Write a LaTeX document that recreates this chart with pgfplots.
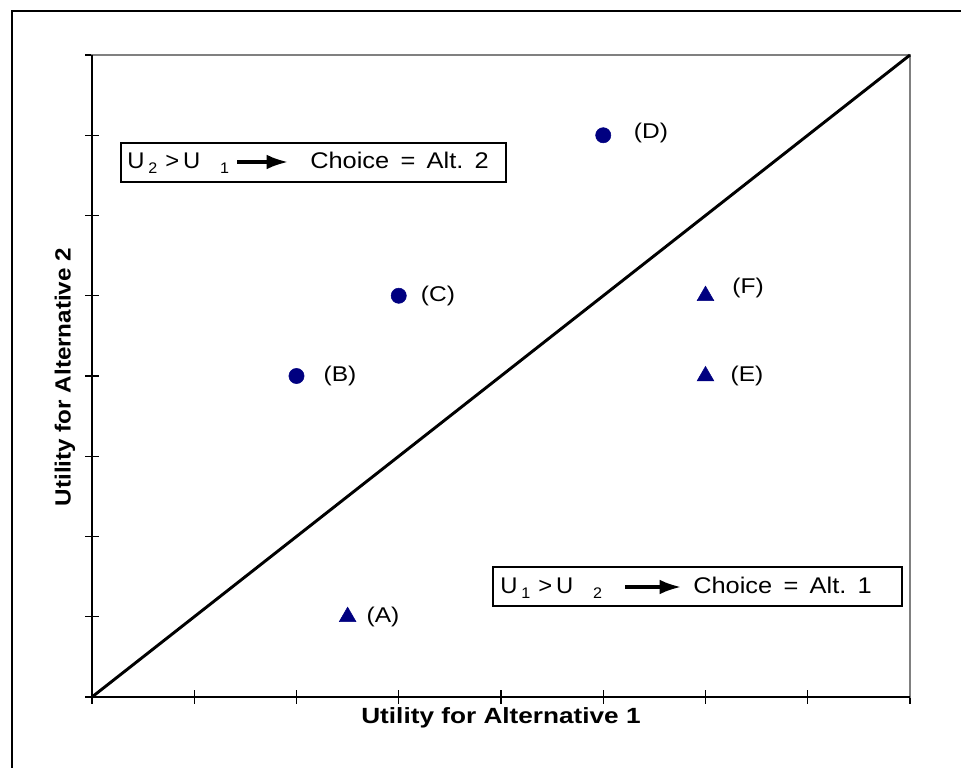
\documentclass[border=0pt]{standalone}
\usepackage{pgfplots}
\pgfplotsset{compat=1.18}
\usepackage{fontspec}
\setmainfont{Liberation Sans}
\usetikzlibrary{arrows.meta}
\definecolor{navyc}{RGB}{0,0,128}
\definecolor{frameg}{RGB}{128,128,128}
\begin{document}
\begin{tikzpicture}
\begin{axis}[
  at={(69pt,53.25pt)}, anchor=south west,
  scale only axis, width=613.5pt, height=481.5pt,
  xmin=0, xmax=8, ymin=0, ymax=8,
  xtick={0,...,8}, ytick={0,...,8},
  xticklabels={}, yticklabels={},
  xtick pos=bottom, ytick pos=left,
  tick align=center, major tick length=10pt,
  every tick/.style={black, line width=0.8pt},
  axis line style={draw=frameg, line width=2pt},
  clip=false,
]
\addplot[black, line width=2.2pt, no marks] coordinates {(0,0) (8,8)};
\addplot[only marks, mark=*, mark size=5.7pt, mark options={draw=navyc, fill=navyc}]
  coordinates {(2,4) (3,5) (5,7)};
\addplot[only marks, mark=triangle*, mark size=7.2pt, mark options={draw=navyc, fill=navyc}]
  coordinates {(2.5,1) (6,4) (6,5)};
\draw[black, line width=1.3pt] (rel axis cs:0,1) -- (rel axis cs:0,0) -- (rel axis cs:1,0);
\node[xscale=1.15, font=\fontsize{16}{16}\selectfont] at (axis cs:2.846,1) {(A)};
\node[xscale=1.15, font=\fontsize{16}{16}\selectfont] at (axis cs:2.425,4) {(B)};
\node[xscale=1.15, font=\fontsize{16}{16}\selectfont] at (axis cs:3.384,5) {(C)};
\node[xscale=1.15, font=\fontsize{16}{16}\selectfont] at (axis cs:5.467,7.03) {(D)};
\node[xscale=1.15, font=\fontsize{16}{16}\selectfont] at (axis cs:6.406,4) {(E)};
\node[xscale=1.15, font=\fontsize{16}{16}\selectfont] at (axis cs:6.416,5.097) {(F)};
\end{axis}
\begin{scope}[x=0.75pt, y=-0.75pt, yshift=576pt]
  % outer frame
  \draw[line width=2.2pt] (12,790) -- (12,11) -- (990,11);
  % axis titles
  \node[xscale=1.19, font=\bfseries\fontsize{16.5}{16.5}\selectfont] at (501,718) {Utility for Alternative 1};
  \node[rotate=90, xscale=1.1, font=\bfseries\fontsize{16.5}{16.5}\selectfont] at (65,377) {Utility for Alternative 2};
  % box 1
  \draw[line width=1.5pt] (121,143) rectangle (506,182);
  \node[anchor=base west, inner sep=0pt, xscale=1.05, font=\fontsize{17}{17}\selectfont] at (127,169)
    {U\,\raisebox{-0.35ex}{\fontsize{11.5}{11.5}\selectfont 2}\,\,>\,U\ \ \ \raisebox{-0.35ex}{\fontsize{11.5}{11.5}\selectfont 1}};
  \draw[line width=2.4pt, -{Latex[length=16pt,width=11pt]}] (237,162) -- (288,162);
  \node[anchor=base west, inner sep=0pt, xscale=1.12, font=\fontsize{17}{17}\selectfont] at (310,169)
    {Choice\,\ =\,\ Alt.\ \,2};
  % box 2
  \draw[line width=1.5pt] (493,567) rectangle (902,606);
  \node[anchor=base west, inner sep=0pt, xscale=1.05, font=\fontsize{17}{17}\selectfont] at (500,594)
    {U\,\raisebox{-0.35ex}{\fontsize{11.5}{11.5}\selectfont 1}\,\,>\,U\ \ \ \raisebox{-0.35ex}{\fontsize{11.5}{11.5}\selectfont 2}};
  \draw[line width=2.4pt, -{Latex[length=16pt,width=11pt]}] (625,587) -- (681,587);
  \node[anchor=base west, inner sep=0pt, xscale=1.12, font=\fontsize{17}{17}\selectfont] at (693,594)
    {Choice\,\ =\,\ Alt.\ \,1};
  \pgfresetboundingbox
  \path (0,0) rectangle (961,768);
\end{scope}
\end{tikzpicture}
\end{document}
